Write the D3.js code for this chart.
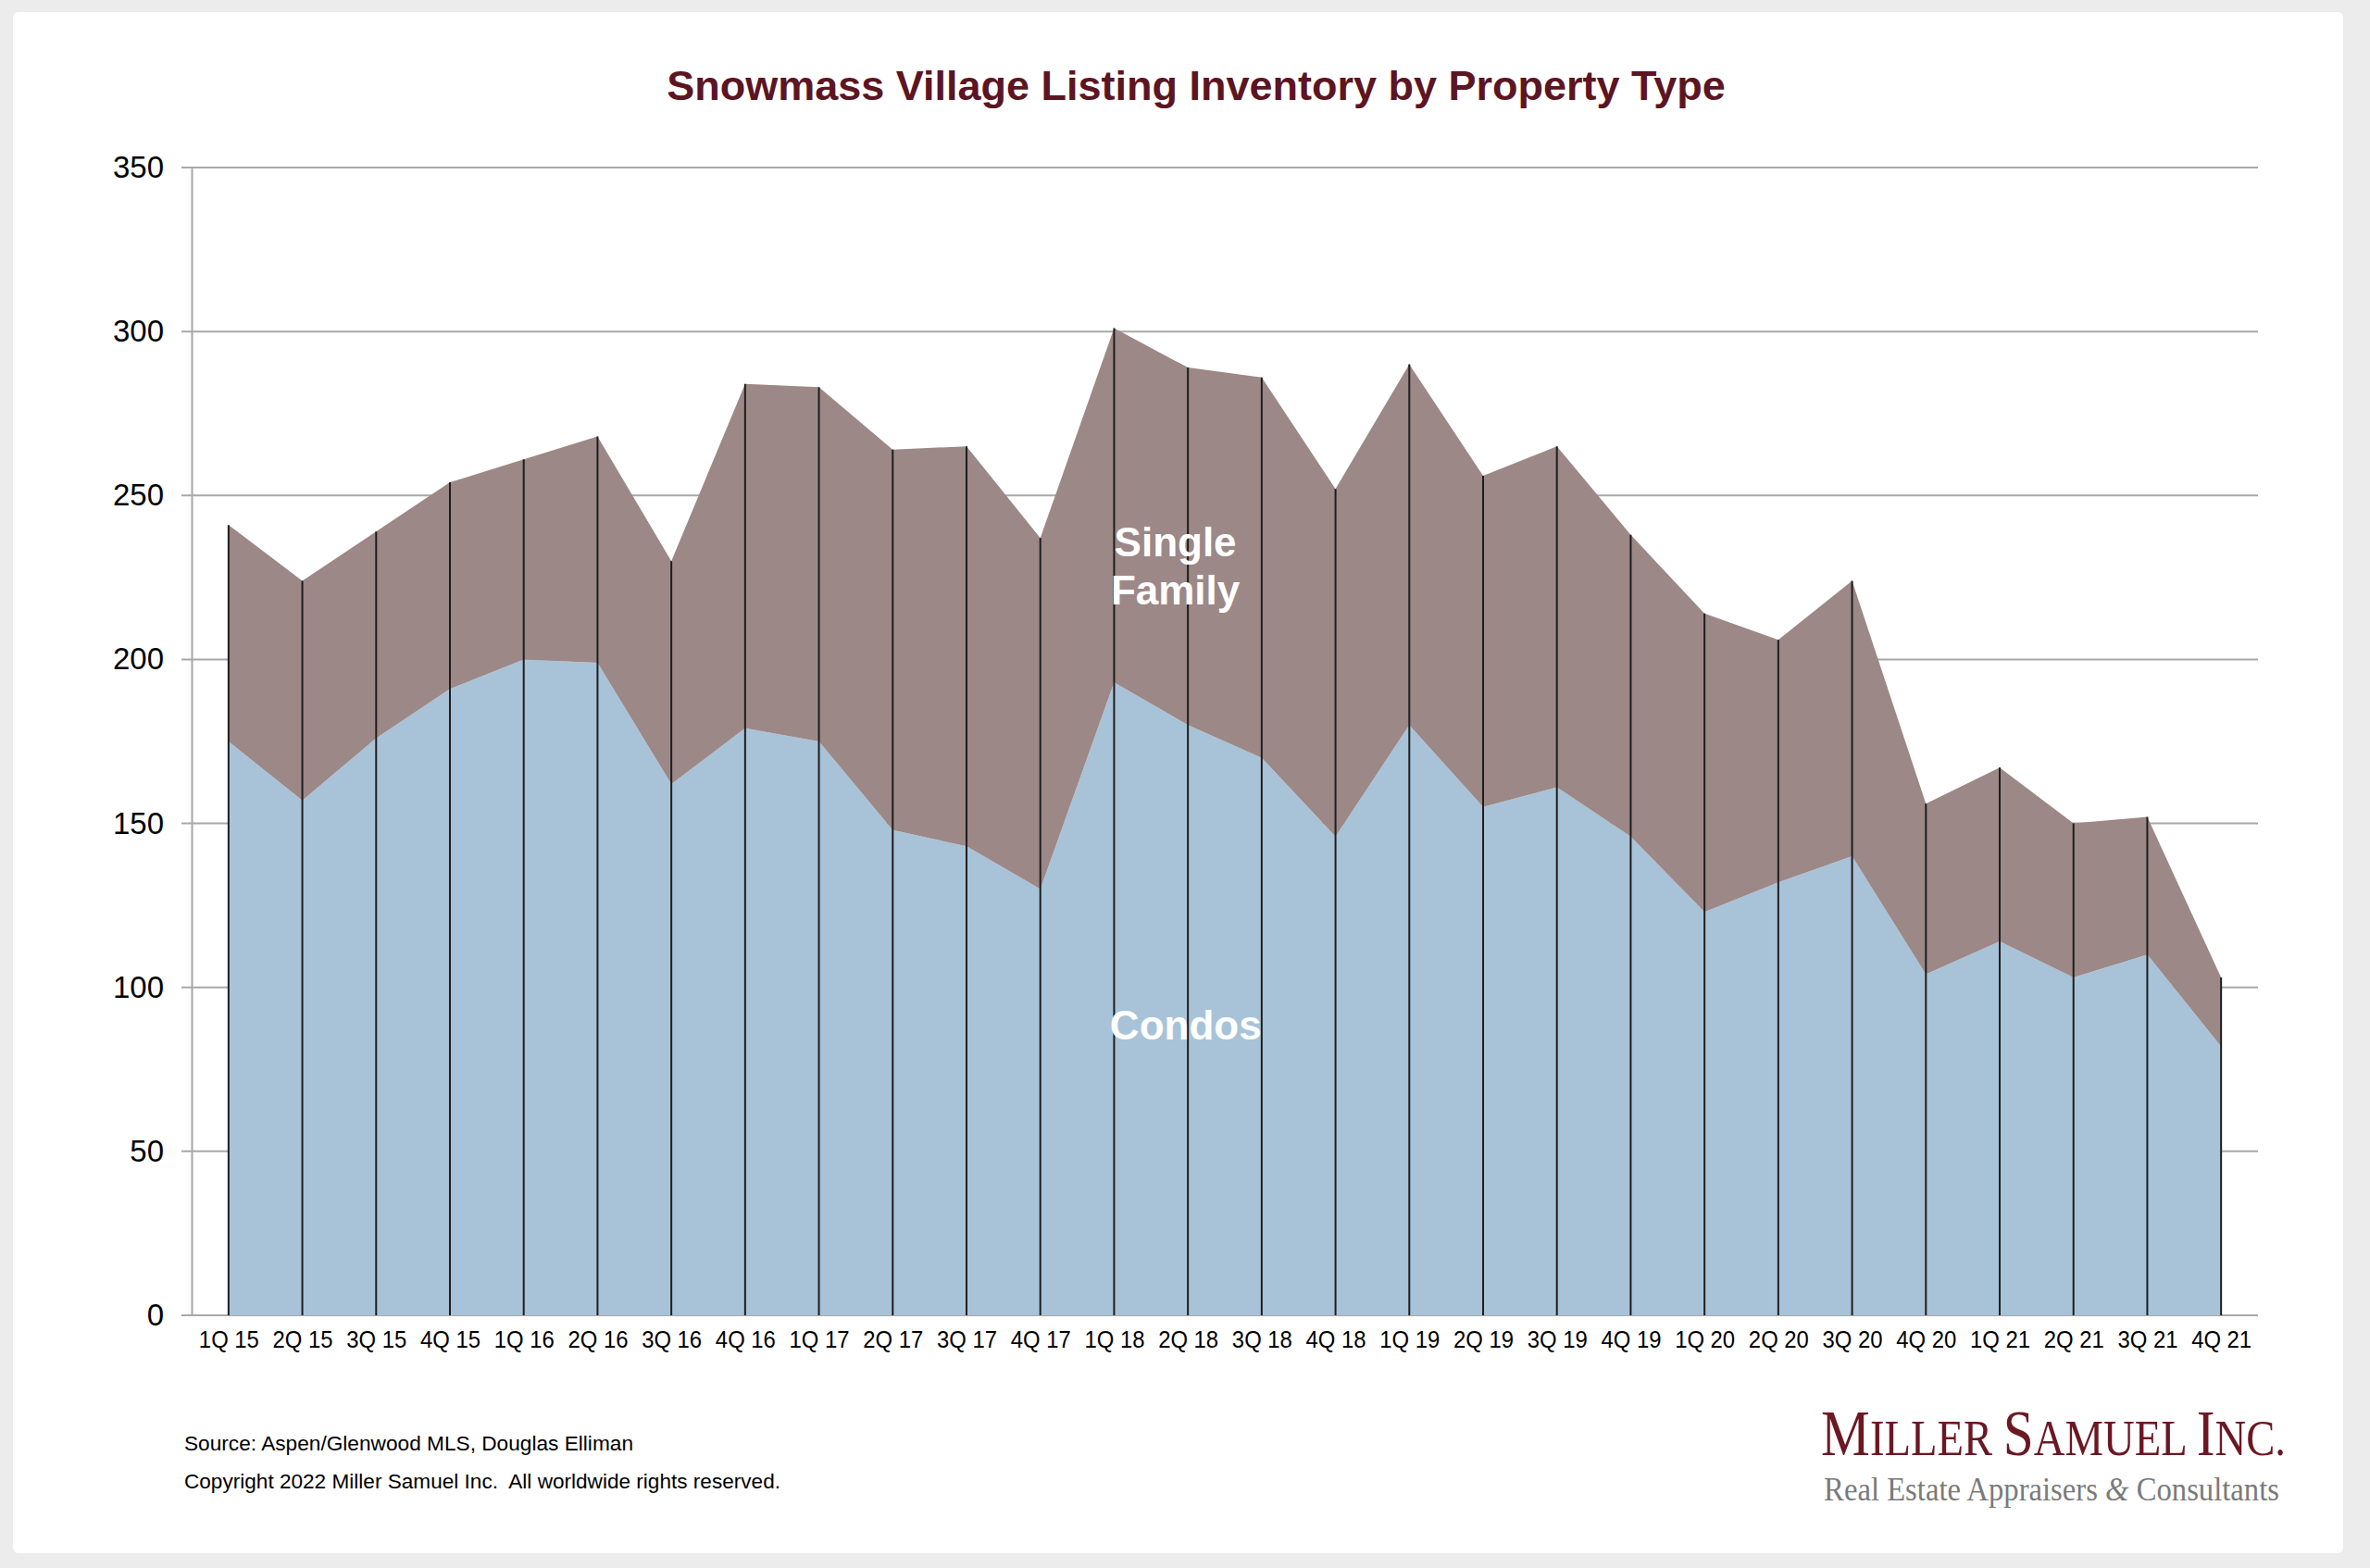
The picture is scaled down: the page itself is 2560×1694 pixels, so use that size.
<!DOCTYPE html>
<html>
<head>
<meta charset="utf-8">
<script src="https://cdn.jsdelivr.net/npm/d3@7"></script>
<style>
  body { margin: 0; background: #ececec; }
  svg { display: block; }
</style>
</head>
<body>
<svg id="chart" width="2560" height="1694"></svg>
<script>
const quarters = [
  "1Q 15", "2Q 15", "3Q 15", "4Q 15", "1Q 16", "2Q 16", "3Q 16", "4Q 16",
  "1Q 17", "2Q 17", "3Q 17", "4Q 17", "1Q 18", "2Q 18", "3Q 18", "4Q 18",
  "1Q 19", "2Q 19", "3Q 19", "4Q 19", "1Q 20", "2Q 20", "3Q 20", "4Q 20",
  "1Q 21", "2Q 21", "3Q 21", "4Q 21"
];
const condos = [175, 157, 176, 191, 200, 199, 162, 179, 175, 148, 143, 130, 193, 180,
  170, 146, 180, 155, 161, 146, 123, 132, 140, 104, 114, 103, 110, 82];
const singleFamily = [66, 67, 63, 63, 61, 69, 68, 105, 108, 116, 122, 107, 108, 109,
  116, 106, 110, 101, 104, 92, 91, 74, 84, 52, 53, 47, 42, 21];
const yTicks = [0, 50, 100, 150, 200, 250, 300, 350];

const width = 2560;
const height = 1694;
const plot = { left: 207, right: 2439, top: 181, bottom: 1421 };
const font = "'Liberation Sans', Arial, Helvetica, sans-serif";

const data = quarters.map((q, i) => ({ q, condos: condos[i], single: singleFamily[i] }));

const svg = d3.select("#chart");

// white card
svg.append("rect")
  .attr("x", 14).attr("y", 13)
  .attr("width", 2517).attr("height", 1665)
  .attr("rx", 6)
  .attr("fill", "#ffffff");

const x = d3.scalePoint()
  .domain(quarters)
  .range([plot.left, plot.right])
  .padding(0.5);

const y = d3.scaleLinear()
  .domain([0, 350])
  .range([plot.bottom, plot.top]);

// gridlines
svg.append("g")
  .selectAll("line")
  .data(yTicks)
  .join("line")
  .attr("x1", plot.left - 11)
  .attr("x2", plot.right)
  .attr("y1", (d) => y(d))
  .attr("y2", (d) => y(d))
  .attr("stroke", "#a8a8a8")
  .attr("stroke-width", 2);

// stacked areas
const series = d3.stack().keys(["condos", "single"])(data);
const colors = { condos: "#a8c3d8", single: "#9c8887" };

const area = d3.area()
  .x((d) => x(d.data.q))
  .y0((d) => y(d[0]))
  .y1((d) => y(d[1]));

svg.append("g")
  .selectAll("path")
  .data(series)
  .join("path")
  .attr("fill", (s) => colors[s.key])
  .attr("d", area);

// drop lines
svg.append("g")
  .selectAll("line")
  .data(data)
  .join("line")
  .attr("x1", (d) => x(d.q))
  .attr("x2", (d) => x(d.q))
  .attr("y1", y(0))
  .attr("y2", (d) => y(d.condos + d.single))
  .attr("stroke", "#1e1e1e")
  .attr("stroke-width", 2);

// y axis
svg.append("g")
  .attr("transform", `translate(${plot.left},0)`)
  .call(d3.axisLeft(y).tickValues(yTicks).tickSize(0).tickPadding(30))
  .call((g) => g.select(".domain").attr("stroke", "#a8a8a8").attr("stroke-width", 2))
  .call((g) => g.selectAll("text")
    .attr("font-family", font)
    .attr("font-size", 33)
    .attr("fill", "#000"));

// x axis
svg.append("g")
  .attr("transform", `translate(0,${plot.bottom})`)
  .call(d3.axisBottom(x).tickSize(0).tickPadding(17))
  .call((g) => g.select(".domain").remove())
  .call((g) => g.selectAll("text")
    .attr("font-family", font)
    .attr("font-size", 26)
    .attr("fill", "#000")
    .attr("textLength", 65)
    .attr("lengthAdjust", "spacingAndGlyphs"));

// series labels
const step = x.step();
const labels = svg.append("g")
  .attr("font-family", font)
  .attr("font-weight", "bold")
  .attr("font-size", 44)
  .attr("fill", "#ffffff")
  .attr("text-anchor", "middle");

labels.append("text")
  .attr("x", x("1Q 18") + step * 0.83)
  .attr("y", y(231.4))
  .text("Single");
labels.append("text")
  .attr("x", x("1Q 18") + step * 0.83)
  .attr("y", y(216.8))
  .text("Family");
labels.append("text")
  .attr("x", x("1Q 18") + step * 0.97)
  .attr("y", y(84))
  .text("Condos");

// title
svg.append("text")
  .attr("x", 1292)
  .attr("y", 108)
  .attr("text-anchor", "middle")
  .attr("font-family", font)
  .attr("font-weight", "bold")
  .attr("font-size", 45)
  .attr("fill", "#5c1522")
  .text("Snowmass Village Listing Inventory by Property Type");

// footer
const foot = svg.append("g")
  .attr("font-family", font)
  .attr("font-size", 22)
  .attr("fill", "#000");
foot.append("text").attr("x", 199).attr("y", 1567)
  .attr("textLength", 485)
  .attr("lengthAdjust", "spacingAndGlyphs")
  .text("Source: Aspen/Glenwood MLS, Douglas Elliman");
foot.append("text").attr("x", 199).attr("y", 1608)
  .attr("xml:space", "preserve")
  .attr("textLength", 644)
  .attr("lengthAdjust", "spacingAndGlyphs")
  .text("Copyright 2022 Miller Samuel Inc.  All worldwide rights reserved.");

// logo
const fitRight = (sel, right, base, targetW) => {
  const w = sel.node().getBBox().width;
  sel.attr("transform", `translate(${right},${base}) scale(${targetW / w},1)`);
};

const logo = svg.append("text")
  .attr("text-anchor", "end")
  .attr("font-family", "'Liberation Serif', 'DejaVu Serif', serif")
  .attr("fill", "#6b1823");
[["M", 70], ["ILLER ", 55], ["S", 70], ["AMUEL ", 55], ["I", 70], ["NC.", 55]]
  .forEach(([t, s]) => logo.append("tspan").attr("font-size", s).text(t));
fitRight(logo, 2469, 1572, 502);

const sub = svg.append("text")
  .attr("text-anchor", "end")
  .attr("font-family", "'Liberation Serif', 'DejaVu Serif', serif")
  .attr("font-size", 36)
  .attr("fill", "#7a7a7a");
sub.append("tspan").text("Real Estate Appraisers ");
sub.append("tspan").attr("font-style", "italic").text("&");
sub.append("tspan").text(" Consultants");
fitRight(sub, 2462, 1621, 492);
</script>
</body>
</html>
